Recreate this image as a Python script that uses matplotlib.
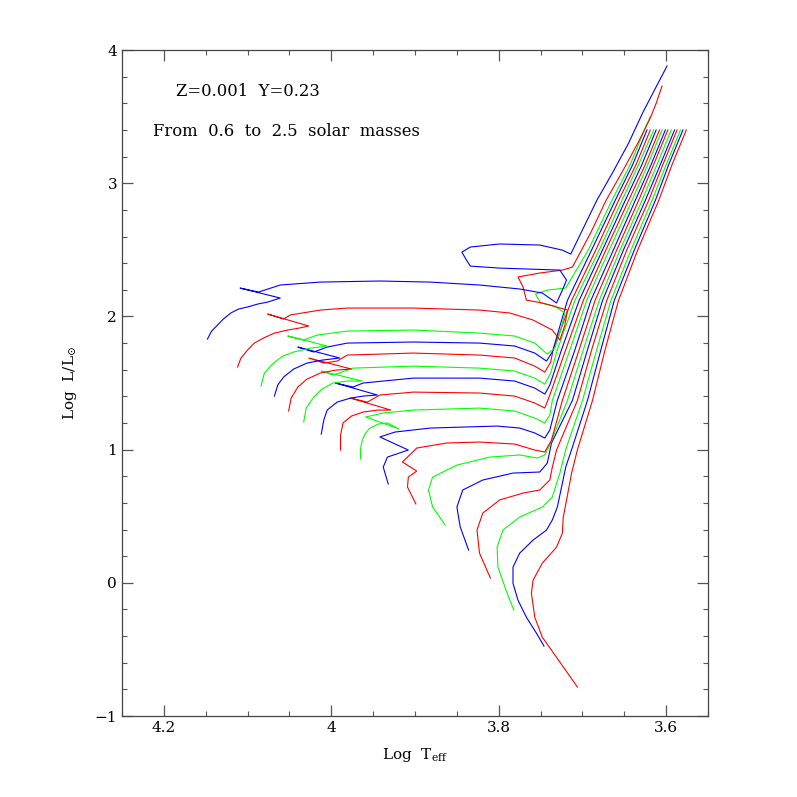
import matplotlib
matplotlib.use('Agg')
import matplotlib.pyplot as plt
from matplotlib.ticker import MultipleLocator

plt.rcParams['font.family'] = ['DejaVu Serif']
plt.rcParams['mathtext.fontset'] = 'dejavuserif'

# evolutionary tracks, log Teff / log L
m06_x = [3.706, 3.727, 3.748, 3.757, 3.761, 3.759, 3.748, 3.731, 3.724, 3.723, 3.719, 3.713, 3.706, 3.688, 3.673, 3.657, 3.634, 3.609, 3.593, 3.576]
m06_y = [-0.783, -0.595, -0.408, -0.258, -0.078, 0.020, 0.148, 0.268, 0.373, 0.494, 0.622, 0.824, 1.00, 1.37, 1.75, 2.12, 2.50, 2.87, 3.14, 3.40]

m07_x = [3.746, 3.755, 3.767, 3.777, 3.783, 3.783, 3.775, 3.759, 3.743, 3.736, 3.730, 3.725, 3.720, 3.713, 3.694, 3.678, 3.662, 3.638, 3.613, 3.597, 3.580]
m07_y = [-0.475, -0.378, -0.258, -0.131, -0.003, 0.118, 0.223, 0.321, 0.396, 0.472, 0.569, 0.719, 0.869, 1.00, 1.37, 1.75, 2.12, 2.50, 2.87, 3.14, 3.40]

m08_x = [3.782, 3.790, 3.801, 3.802, 3.795, 3.775, 3.748, 3.736, 3.727, 3.720, 3.700, 3.683, 3.666, 3.642, 3.617, 3.600, 3.583]
m08_y = [-0.205, -0.078, 0.118, 0.268, 0.397, 0.494, 0.569, 0.644, 0.824, 1.00, 1.37, 1.75, 2.12, 2.50, 2.87, 3.14, 3.40]

m09_x = [3.810, 3.823, 3.826, 3.819, 3.799, 3.771, 3.751, 3.739, 3.736, 3.731, 3.706, 3.689, 3.671, 3.647, 3.621, 3.604, 3.587]
m09_y = [0.036, 0.223, 0.397, 0.524, 0.622, 0.674, 0.697, 0.772, 0.869, 0.997, 1.37, 1.75, 2.12, 2.50, 2.87, 3.14, 3.40]

m10_x = [3.836, 3.846, 3.850, 3.843, 3.819, 3.783, 3.751, 3.742, 3.737, 3.712, 3.694, 3.676, 3.651, 3.625, 3.607, 3.590]
m10_y = [0.246, 0.419, 0.569, 0.697, 0.772, 0.824, 0.832, 0.899, 1.050, 1.37, 1.75, 2.12, 2.50, 2.87, 3.14, 3.40]

m11_x = [3.864, 3.879, 3.884, 3.879, 3.850, 3.811, 3.775, 3.754, 3.745, 3.739, 3.718, 3.699, 3.680, 3.655, 3.629, 3.611, 3.594]
m11_y = [0.434, 0.569, 0.697, 0.794, 0.884, 0.944, 0.960, 0.937, 0.960, 1.035, 1.37, 1.75, 2.12, 2.50, 2.87, 3.14, 3.40]

m12_x = [3.899, 3.909, 3.908, 3.898, 3.915, 3.898, 3.862, 3.823, 3.781, 3.757, 3.745, 3.737, 3.724, 3.704, 3.685, 3.659, 3.633, 3.615, 3.598]
m12_y = [0.592, 0.719, 0.794, 0.839, 0.907, 1.012, 1.050, 1.057, 1.042, 0.997, 0.982, 1.072, 1.37, 1.75, 2.12, 2.50, 2.87, 3.14, 3.40]

m13_x = [3.932, 3.938, 3.933, 3.908, 3.942, 3.924, 3.882, 3.802, 3.775, 3.757, 3.745, 3.739, 3.730, 3.709, 3.690, 3.663, 3.637, 3.618, 3.601]
m13_y = [0.742, 0.869, 0.944, 0.997, 1.095, 1.132, 1.162, 1.177, 1.162, 1.125, 1.087, 1.147, 1.37, 1.75, 2.12, 2.50, 2.87, 3.14, 3.40]

m14_x = [3.965, 3.965, 3.963, 3.959, 3.954, 3.944, 3.933, 3.919, 3.959, 3.938, 3.902, 3.823, 3.781, 3.757, 3.745, 3.739, 3.736, 3.715, 3.695, 3.668, 3.641, 3.622, 3.605]
m14_y = [0.929, 1.012, 1.072, 1.125, 1.162, 1.192, 1.200, 1.155, 1.245, 1.275, 1.297, 1.312, 1.290, 1.237, 1.200, 1.260, 1.37, 1.75, 2.12, 2.50, 2.87, 3.14, 3.40]

m15_x = [3.989, 3.989, 3.986, 3.976, 3.962, 3.945, 3.929, 3.977, 3.957, 3.942, 3.902, 3.823, 3.781, 3.757, 3.745, 3.739, 3.720, 3.699, 3.672, 3.645, 3.625, 3.608]
m15_y = [0.997, 1.109, 1.200, 1.252, 1.282, 1.297, 1.297, 1.387, 1.357, 1.410, 1.432, 1.425, 1.402, 1.350, 1.312, 1.410, 1.75, 2.12, 2.50, 2.87, 3.14, 3.40]

m16_x = [4.012, 4.009, 4.005, 3.993, 3.977, 3.962, 3.945, 3.995, 3.974, 3.962, 3.902, 3.823, 3.781, 3.757, 3.745, 3.739, 3.725, 3.704, 3.676, 3.649, 3.629, 3.612]
m16_y = [1.117, 1.222, 1.297, 1.357, 1.387, 1.402, 1.410, 1.500, 1.470, 1.500, 1.537, 1.537, 1.515, 1.462, 1.417, 1.485, 1.75, 2.12, 2.50, 2.87, 3.14, 3.40]

m17_x = [4.033, 4.030, 4.021, 4.011, 3.998, 3.981, 3.963, 4.012, 3.998, 3.974, 3.902, 3.823, 3.781, 3.757, 3.745, 3.738, 3.730, 3.709, 3.680, 3.653, 3.633, 3.615]
m17_y = [1.207, 1.312, 1.395, 1.455, 1.500, 1.515, 1.515, 1.590, 1.560, 1.612, 1.627, 1.612, 1.590, 1.537, 1.492, 1.575, 1.75, 2.12, 2.50, 2.87, 3.14, 3.40]

m18_x = [4.051, 4.048, 4.040, 4.029, 4.013, 3.995, 3.976, 4.027, 4.009, 3.993, 3.981, 3.902, 3.823, 3.781, 3.757, 3.745, 3.738, 3.735, 3.713, 3.684, 3.657, 3.636, 3.619]
m18_y = [1.290, 1.387, 1.470, 1.530, 1.575, 1.597, 1.605, 1.688, 1.650, 1.665, 1.710, 1.725, 1.710, 1.688, 1.627, 1.582, 1.657, 1.75, 2.12, 2.50, 2.87, 3.14, 3.40]

m19_x = [4.068, 4.064, 4.057, 4.045, 4.029, 4.011, 3.990, 4.040, 4.021, 4.005, 3.981, 3.902, 3.823, 3.781, 3.757, 3.743, 3.736, 3.718, 3.689, 3.661, 3.640, 3.623]
m19_y = [1.402, 1.485, 1.545, 1.605, 1.650, 1.672, 1.688, 1.770, 1.733, 1.770, 1.800, 1.808, 1.800, 1.778, 1.725, 1.665, 1.733, 2.12, 2.50, 2.87, 3.14, 3.40]

m20_x = [4.084, 4.080, 4.069, 4.058, 4.045, 4.025, 4.005, 4.052, 4.033, 4.017, 3.981, 3.902, 3.823, 3.781, 3.757, 3.742, 3.733, 3.726, 3.721, 3.733, 3.750, 3.756, 3.742, 3.720, 3.693, 3.665, 3.643, 3.626, 3.619]
m20_y = [1.477, 1.575, 1.650, 1.702, 1.733, 1.762, 1.778, 1.853, 1.823, 1.860, 1.890, 1.898, 1.875, 1.853, 1.800, 1.717, 1.762, 1.898, 2.025, 2.078, 2.101, 2.168, 2.198, 2.213, 2.50, 2.87, 3.14, 3.40, 3.50]

m22_x = [4.112, 4.108, 4.100, 4.092, 4.081, 4.068, 4.052, 4.039, 4.027, 4.076, 4.057, 4.049, 4.013, 3.981, 3.902, 3.823, 3.787, 3.759, 3.736, 3.727, 3.721, 3.718, 3.731, 3.748, 3.767, 3.771, 3.777, 3.751, 3.724, 3.712, 3.690, 3.672, 3.653, 3.634, 3.619, 3.612, 3.605]
m22_y = [1.620, 1.687, 1.748, 1.800, 1.838, 1.875, 1.898, 1.912, 1.928, 2.018, 1.981, 2.011, 2.048, 2.063, 2.063, 2.048, 2.026, 1.973, 1.898, 1.823, 1.935, 2.048, 2.071, 2.101, 2.123, 2.221, 2.296, 2.326, 2.348, 2.371, 2.63, 2.87, 3.08, 3.30, 3.49, 3.60, 3.73]

m25_x = [4.148, 4.143, 4.136, 4.129, 4.120, 4.111, 4.100, 4.088, 4.076, 4.061, 4.109, 4.087, 4.061, 4.013, 3.942, 3.882, 3.823, 3.775, 3.748, 3.731, 3.724, 3.719, 3.727, 3.799, 3.834, 3.840, 3.844, 3.834, 3.799, 3.751, 3.724, 3.714, 3.700, 3.683, 3.664, 3.645, 3.628, 3.614, 3.599]
m25_y = [1.830, 1.890, 1.935, 1.980, 2.026, 2.055, 2.071, 2.093, 2.108, 2.138, 2.213, 2.183, 2.236, 2.258, 2.266, 2.258, 2.236, 2.206, 2.176, 2.101, 2.198, 2.273, 2.348, 2.363, 2.378, 2.438, 2.483, 2.521, 2.544, 2.536, 2.498, 2.468, 2.65, 2.87, 3.08, 3.30, 3.53, 3.70, 3.88]

tracks_x = [m06_x, m07_x, m08_x, m09_x, m10_x, m11_x, m12_x, m13_x, m14_x,
            m15_x, m16_x, m17_x, m18_x, m19_x, m20_x, m22_x, m25_x]
tracks_y = [m06_y, m07_y, m08_y, m09_y, m10_y, m11_y, m12_y, m13_y, m14_y,
            m15_y, m16_y, m17_y, m18_y, m19_y, m20_y, m22_y, m25_y]
colors = ['#ff0000', '#0000ff', '#00ff00'] * 6

fig = plt.figure(figsize=(7.97, 7.97), dpi=100)
ax = fig.add_axes([0.1531, 0.1016, 0.7353, 0.8356])

for tx, ty, c in zip(tracks_x, tracks_y, colors):
    ax.plot(tx, ty, color=c, lw=0.8)

ax.set_xlim(4.25, 3.55)
ax.set_ylim(-1, 4)
ax.xaxis.set_major_locator(MultipleLocator(0.2))
ax.xaxis.set_minor_locator(MultipleLocator(0.05))
ax.yaxis.set_major_locator(MultipleLocator(1))
ax.yaxis.set_minor_locator(MultipleLocator(0.2))
ax.xaxis.set_major_formatter(plt.FuncFormatter(lambda v, p: '%g' % round(v, 2)))
ax.yaxis.set_major_formatter(plt.FuncFormatter(lambda v, p: '%g' % v if v >= 0 else '\u2212%g' % -v))

ax.tick_params(which='both', direction='in', top=True, right=True,
               color='#555555', labelsize=11)
ax.tick_params(which='major', length=8, width=0.9)
ax.tick_params(which='minor', length=3.6, width=0.8)
for s in ax.spines.values():
    s.set_color('#444444')
    s.set_linewidth(0.9)

ax.set_xlabel(r'Log  T$_{\rm eff}$', fontsize=11, labelpad=8)
ax.set_ylabel(r'Log  L/L$_{\odot}$', fontsize=11, labelpad=11)

ax.text(4.186, 3.692, 'Z=0.001  Y=0.23', fontsize=11.8, va='center')
ax.text(4.213, 3.392, 'From  0.6  to  2.5  solar  masses', fontsize=11.8, va='center')

plt.savefig('out.png', dpi=100)
